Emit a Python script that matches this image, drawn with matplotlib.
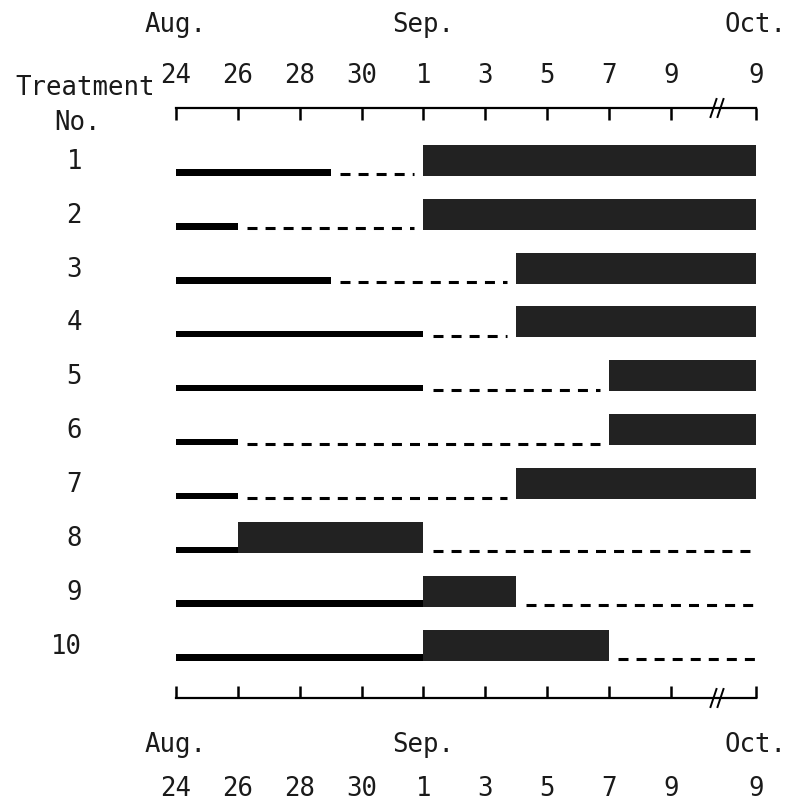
import numpy as np
import matplotlib
matplotlib.use("Agg")
import matplotlib.pyplot as plt
from matplotlib.transforms import blended_transform_factory

# ---------------- data (days counted from Aug. 24) ----------------
treatments = [1, 2, 3, 4, 5, 6, 7, 8, 9, 10]
solid_end = [5, 2, 5, 8, 8, 2, 2, 2, 8, 8]          # solid line from Aug 24 to this day
bar_start = [8, 8, 11, 11, 14, 14, 11, 2, 8, 8]     # dark bar start
bar_end   = [46, 46, 46, 46, 46, 46, 46, 8, 11, 14] # dark bar end (46 = Oct. 9)
END_DAY = 46                                        # Oct. 9

tick_days = [0, 2, 4, 6, 8, 10, 12, 14, 16, 46]
tick_labels = ['24', '26', '28', '30', '1', '3', '5', '7', '9', '9']
month_days = [0, 8, 46]
month_labels = ['Aug.', 'Sep.', 'Oct.']

# ---------------- broken axis scale ----------------
BRK = 16.0
BRK_W = 2.75

def fwd(d):
    d = np.asarray(d, dtype=float)
    return np.where(d <= BRK, d, BRK + (d - BRK) * BRK_W / (END_DAY - BRK))

def inv(x):
    x = np.asarray(x, dtype=float)
    return np.where(x <= BRK, x, BRK + (x - BRK) * (END_DAY - BRK) / BRK_W)

plt.rcParams['lines.scale_dashes'] = False
FONT = 'DejaVu Sans Mono'
FS = 18.5
TXT = '#1a1a1a'
W, H = 791, 809
fig = plt.figure(figsize=(W / 100, H / 100), dpi=100)

x0, x1 = 176, 756
ytop, ybot = 108, 698
ax = fig.add_axes([x0 / W, 1 - ybot / H, (x1 - x0) / W, (ybot - ytop) / H])
ax.set_xscale('function', functions=(fwd, inv))
ax.set_xlim(0, END_DAY)
row_top = -0.197
row_bot = 10.75
ax.set_ylim(row_bot, row_top)

ax2 = ax.twiny()
ax2.set_xscale('function', functions=(fwd, inv))
ax2.set_xlim(0, END_DAY)

for s in ['left', 'right']:
    ax.spines[s].set_visible(False)
    ax2.spines[s].set_visible(False)
ax2.spines['bottom'].set_visible(False)
ax.spines['top'].set_visible(False)
ax.spines['bottom'].set_linewidth(1.6)
ax2.spines['top'].set_linewidth(1.6)

ax.set_yticks([])
ax.set_xticks(tick_days)
ax.set_xticklabels(tick_labels, fontfamily=FONT, fontsize=FS, color=TXT)
ax.tick_params(axis='x', direction='in', length=8.5, width=1.8, pad=56,
               bottom=True, top=False, labelbottom=True, labeltop=False)
ax2.set_xticks(tick_days)
ax2.set_xticklabels(tick_labels, fontfamily=FONT, fontsize=FS, color=TXT)
ax2.tick_params(axis='x', direction='in', length=8.5, width=1.8, pad=14,
                top=True, bottom=False, labeltop=True, labelbottom=False)
ax.xaxis.set_minor_locator(plt.NullLocator())
ax2.xaxis.set_minor_locator(plt.NullLocator())

# ---------------- rows ----------------
LINE_H = 0.12
BAR_H = 0.575
BAR_COLOR = '#222222'
for i, t in enumerate(treatments):
    base = t + 0.06
    # solid line
    ax.barh(base - LINE_H, solid_end[i], left=0, height=LINE_H, align='edge',
            color='black', clip_on=False, zorder=3)
    # dark bar
    ax.barh(base - BAR_H, bar_end[i] - bar_start[i], left=bar_start[i], height=BAR_H,
            align='edge', color=BAR_COLOR, clip_on=False, zorder=3)
    # dashed gaps
    segs = []
    if bar_start[i] > solid_end[i]:
        segs.append((solid_end[i] + 0.3, bar_start[i] - 0.3))
    if bar_end[i] < END_DAY:
        segs.append((bar_end[i] + 0.3, END_DAY))
    for a, b in segs:
        ax.plot([a, b], [t + 0.03, t + 0.03], color='black', lw=2.2,
                linestyle=(0, (7.2, 5.8)), solid_capstyle='butt',
                dash_capstyle='butt', clip_on=False, zorder=2)
    ax.text(82 / W, t - 0.2, str(t), transform=blended_transform_factory(fig.transFigure, ax.transData),
            ha='right', va='center', fontfamily=FONT, fontsize=FS, color=TXT)

# ---------------- month labels ----------------
bt = blended_transform_factory(ax.transData, fig.transFigure)
for d, m in zip(month_days, month_labels):
    ax.text(d, 1 - 25 / H, m, transform=bt, ha='center', va='center',
            fontfamily=FONT, fontsize=FS, color=TXT)
    ax.text(d, 1 - 745 / H, m, transform=bt, ha='center', va='center',
            fontfamily=FONT, fontsize=FS, color=TXT)

fig.text(155 / W, 1 - 88 / H, 'Treatment', ha='right', va='center',
         fontfamily=FONT, fontsize=FS, color=TXT)
fig.text(78 / W, 1 - 123 / H, 'No.', ha='center', va='center',
         fontfamily=FONT, fontsize=FS, color=TXT)

# ---------------- axis break marks ----------------
bx = (717 - x0) / (x1 - x0)
for yax in (1.0, 0.0):
    for dx in (-3.5, 3.5):
        xa = bx + dx / (x1 - x0)
        ax.plot([xa - 3 / (x1 - x0), xa + 3 / (x1 - x0)],
                [yax - 9 / (ybot - ytop), yax + 9 / (ybot - ytop)],
                transform=ax.transAxes, color='black', lw=1.4, clip_on=False, zorder=5)

fig.savefig('out.png', dpi=100, facecolor='white')
